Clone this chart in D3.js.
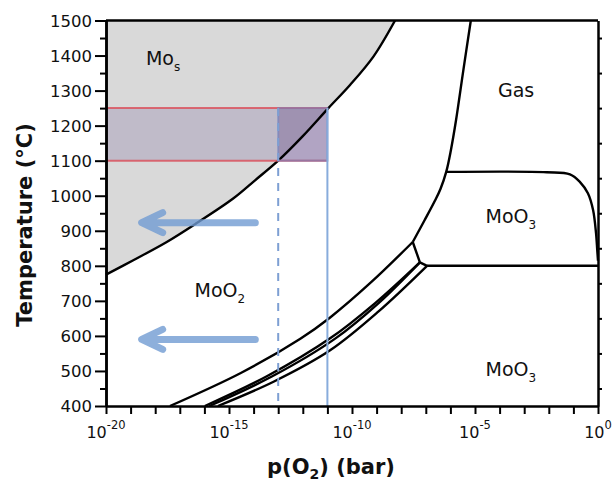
<!DOCTYPE html>
<html>
<head>
<meta charset="utf-8">
<script src="https://cdn.jsdelivr.net/npm/d3@7"></script>
<style>
  body { margin: 0; background: #fff; }
  svg { display: block; }
  text { font-family: "DejaVu Sans", sans-serif; fill: #111; }
</style>
</head>
<body>
<div id="chart"></div>
<script>
// log10 p(O2) in bar  /  temperature in degC
var moLogP = [-20, -18.89, -17.53, -16.31, -14.83, -13.94, -13, -12, -10.96, -10.08, -9.13, -8.25];
var moT    = [775, 816, 868, 922, 992, 1044, 1100, 1170, 1250, 1316, 1397, 1500];

var gasLogP = [-5.17, -5.47, -5.77, -5.98, -6.17, -6.40, -6.62, -7.05, -7.53];
var gasT    = [1500, 1360, 1216, 1130, 1068, 1020, 987, 930, 868];

var moo2LowLogP = [-17.4, -14.5, -12.1, -10.9, -9.21, -7.53];
var moo2LowT    = [400, 495, 592, 652, 754, 868];

var lineB1LogP = [-15.98, -13.48, -10.89, -9.07, -7.24];
var lineB1T    = [400, 484, 593, 693, 810];
var lineB2LogP = [-15.8, -13.26, -10.67, -8.93, -7.24];
var lineB2T    = [400, 484, 593, 693, 810];
var lineCLogP  = [-15.45, -13.17, -10.89, -8.92, -6.95];
var lineCT     = [400, 470, 559, 670, 800];

// little joint from the triple point down to the 800 degC line
var jointLogP = [-7.53, -7.24, -6.95];
var jointT    = [868, 810, 800];

var moo3TopLogP = [-6.17, -2.085, -1.14, -0.73, -0.41, -0.20, -0.08, -0.03, 0];
var moo3TopT    = [1068, 1067, 1061, 1039, 1007, 959, 893, 844, 815];

var meltT = 800;
var meltLogP = [-6.95, 0];

var bandT = [1100, 1250];
var bandLogP = [-20, -13, -11];   // left edge, dashed line, solid line

var arrowT = [923, 590];
var arrowLogP = [-18.55, -13.93];

var yTicks = [400, 500, 600, 700, 800, 900, 1000, 1100, 1200, 1300, 1400, 1500];
var yMinor = [450, 550, 650, 750, 850, 950, 1050, 1150, 1250, 1350, 1450];
var xDecades = d3.range(-20, 1);
var xLabels = [-20, -15, -10, -5, 0];

var margin = { top: 20.5, right: 16, bottom: 78, left: 106 },
    width = 614 - margin.left - margin.right,
    height = 484 - margin.top - margin.bottom;

var svg = d3.select("#chart")
    .append("svg")
    .attr("width", 614)
    .attr("height", 484)
    .append("g")
    .attr("transform", "translate(" + margin.left + "," + margin.top + ")");

var x = d3.scaleLog().domain([1e-20, 1]).range([0, width]);
var y = d3.scaleLinear().domain([400, 1500]).range([height, 0]);
var px = function (l) { return x(Math.pow(10, l)); };

function pts(lp, t) {
    return lp.map(function (d, i) { return [d, t[i]]; });
}

var curve = d3.curveCatmullRom.alpha(0.5);
var line = d3.line()
    .x(function (d) { return px(d[0]); })
    .y(function (d) { return y(d[1]); })
    .curve(curve);

// grey Mo field
svg.append("path")
    .datum(pts(moLogP, moT))
    .attr("d", d3.area()
        .x(function (d) { return px(d[0]); })
        .y0(y(1500))
        .y1(function (d) { return y(d[1]); })
        .curve(curve))
    .style("fill", "#d9d9d9");

// process window band
svg.append("rect")
    .attr("x", px(bandLogP[0]))
    .attr("y", y(bandT[1]))
    .attr("width", px(bandLogP[2]) - px(bandLogP[0]))
    .attr("height", y(bandT[0]) - y(bandT[1]))
    .style("fill", "rgb(137,120,164)")
    .style("fill-opacity", 0.3);

svg.append("rect")
    .attr("x", px(bandLogP[1]))
    .attr("y", y(bandT[1]))
    .attr("width", px(bandLogP[2]) - px(bandLogP[1]))
    .attr("height", y(bandT[0]) - y(bandT[1]))
    .style("fill", "rgb(92,64,128)")
    .style("fill-opacity", 0.33);

// phase boundaries
var bounds = [
    pts(moLogP, moT),
    pts(gasLogP, gasT),
    pts(moo2LowLogP, moo2LowT),
    pts(lineB1LogP, lineB1T),
    pts(lineB2LogP, lineB2T),
    pts(lineCLogP, lineCT),
    pts(moo3TopLogP, moo3TopT)
];
svg.selectAll(".bound")
    .data(bounds)
    .enter()
    .append("path")
    .attr("class", "bound")
    .attr("d", line)
    .style("fill", "none")
    .style("stroke", "#000")
    .style("stroke-width", 2.4);

svg.append("path")
    .datum(pts(jointLogP, jointT))
    .attr("d", d3.line().x(function (d) { return px(d[0]); }).y(function (d) { return y(d[1]); }))
    .style("fill", "none")
    .style("stroke", "#000")
    .style("stroke-width", 2.4)
    .style("stroke-linejoin", "round");

svg.append("line")
    .attr("x1", px(meltLogP[0])).attr("x2", px(meltLogP[1]))
    .attr("y1", y(meltT)).attr("y2", y(meltT))
    .style("stroke", "#000")
    .style("stroke-width", 2.4);

// red edges of the band
svg.selectAll(".redline")
    .data(bandT)
    .enter()
    .append("line")
    .attr("class", "redline")
    .attr("x1", px(bandLogP[0]))
    .attr("x2", px(bandLogP[2]))
    .attr("y1", function (d) { return y(d); })
    .attr("y2", function (d) { return y(d); })
    .style("stroke", "#d9545f")
    .style("stroke-opacity", 0.85)
    .style("stroke-width", 2);

svg.append("rect")
    .attr("x", px(bandLogP[1]))
    .attr("y", y(bandT[1]))
    .attr("width", px(bandLogP[2]) - px(bandLogP[1]))
    .attr("height", y(bandT[0]) - y(bandT[1]))
    .style("fill", "none")
    .style("stroke", "#6f80c0")
    .style("stroke-opacity", 0.6)
    .style("stroke-width", 2);

// blue verticals
svg.append("line")
    .attr("x1", px(bandLogP[1])).attr("x2", px(bandLogP[1]))
    .attr("y1", y(bandT[1])).attr("y2", y(400))
    .style("stroke", "#7d9fd3")
    .style("stroke-width", 2)
    .style("stroke-dasharray", "8,7");

svg.append("line")
    .attr("x1", px(bandLogP[2])).attr("x2", px(bandLogP[2]))
    .attr("y1", y(bandT[1])).attr("y2", y(400))
    .style("stroke", "#88acdc")
    .style("stroke-width", 2);

// arrows
svg.selectAll(".arrow")
    .data(arrowT)
    .enter()
    .append("path")
    .attr("class", "arrow")
    .attr("d", function (t) {
        var x0 = px(arrowLogP[0]), x1 = px(arrowLogP[1]), yy = y(t);
        return "M" + x1 + "," + yy + "L" + (x0 + 2) + "," + yy +
            "M" + (x0 + 21) + "," + (yy - 10) + "L" + x0 + "," + yy + "L" + (x0 + 21) + "," + (yy + 10);
    })
    .style("fill", "none")
    .style("stroke", "rgb(112,155,210)")
    .style("stroke-opacity", 0.8)
    .style("stroke-width", 7)
    .style("stroke-linecap", "round")
    .style("stroke-linejoin", "round");

// field labels
var labels = [
    { l: -17.68, t: 1373, main: "Mo", sub: "s" },
    { l: -3.33, t: 1281, main: "Gas", sub: "" },
    { l: -3.54, t: 922, main: "MoO", sub: "3" },
    { l: -15.37, t: 711, main: "MoO", sub: "2" },
    { l: -3.54, t: 486, main: "MoO", sub: "3" }
];
var lab = svg.selectAll(".lab")
    .data(labels)
    .enter()
    .append("text")
    .attr("class", "lab")
    .attr("x", function (d) { return px(d.l); })
    .attr("y", function (d) { return y(d.t); })
    .attr("text-anchor", "middle")
    .style("font-size", "19px");
lab.append("tspan").text(function (d) { return d.main; });
lab.append("tspan")
    .attr("dy", 6)
    .style("font-size", "12px")
    .text(function (d) { return d.sub; });

// axes
var yAxis = svg.append("g")
    .call(d3.axisLeft(y).tickValues(yTicks).tickFormat(d3.format("d")).tickSize(11).tickSizeOuter(0).tickPadding(3));
yAxis.selectAll("text").style("font-size", "16.5px").attr("dy", "0.36em");
svg.append("g")
    .call(d3.axisLeft(y).tickValues(yMinor).tickSize(6).tickSizeOuter(0).tickFormat(""));

svg.append("g")
    .attr("transform", "translate(" + width + ",0)")
    .call(d3.axisRight(y).tickValues(yMinor).tickSize(4).tickSizeOuter(0).tickFormat(""));

svg.append("g")
    .attr("transform", "translate(0," + height + ")")
    .call(d3.axisBottom(x).tickValues(xDecades.map(function (d) { return Math.pow(10, d); }))
        .tickSize(8).tickSizeOuter(0).tickFormat(""));

svg.selectAll(".domain").style("stroke-width", 2.5);
svg.selectAll(".tick line").style("stroke-width", 2);

svg.append("line")
    .attr("x1", 0).attr("x2", width)
    .attr("y1", 0).attr("y2", 0)
    .style("stroke", "#000")
    .style("stroke-width", 2.5);

var xl = svg.selectAll(".xlab")
    .data(xLabels)
    .enter()
    .append("text")
    .attr("class", "xlab")
    .attr("x", function (d) { return px(d); })
    .attr("y", height + 32)
    .attr("text-anchor", "middle")
    .style("font-size", "16px");
xl.append("tspan").text("10");
xl.append("tspan")
    .attr("dy", -9)
    .style("font-size", "11.5px")
    .text(function (d) { return d; });

// axis titles
var xt = svg.append("text")
    .attr("x", 331 - margin.left)
    .attr("y", height + 68)
    .attr("text-anchor", "middle")
    .style("font-size", "21px")
    .style("font-weight", "bold");
xt.append("tspan").text("p(O");
xt.append("tspan").attr("dy", 5).style("font-size", "14px").text("2");
xt.append("tspan").attr("dy", -5).text(") (bar)");

svg.append("text")
    .attr("transform", "translate(" + (32 - margin.left) + "," + (225 - margin.top) + ") rotate(-90)")
    .attr("text-anchor", "middle")
    .style("font-size", "21px")
    .style("font-weight", "bold")
    .text("Temperature (°C)");
</script>
</body>
</html>
